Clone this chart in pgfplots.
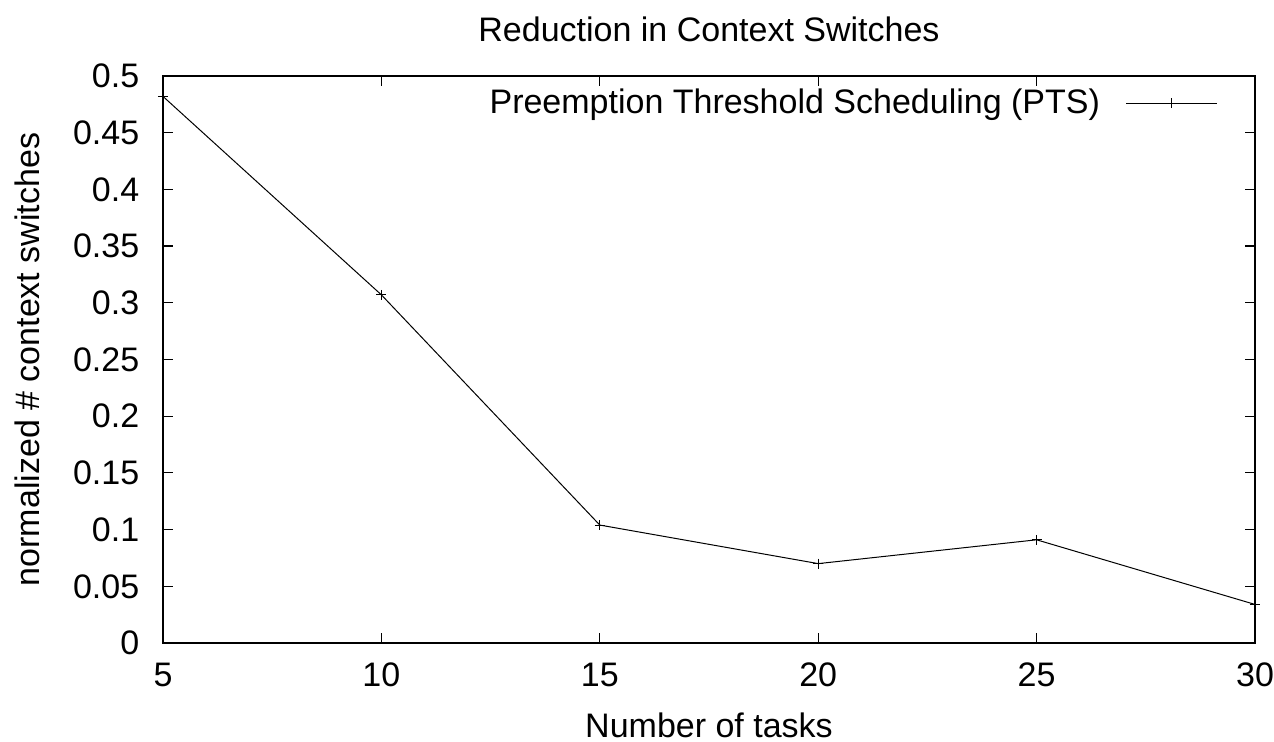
\documentclass[border=0pt]{standalone}
\usepackage{pgfplots}
\pgfplotsset{compat=1.18}
\usepackage{fontspec}
\setmainfont{Liberation Sans}
\begin{document}
\fontsize{17}{20}\selectfont
\begin{tikzpicture}
\begin{axis}[
  scale only axis,
  width=546pt, height=283.5pt,
  xmin=5, xmax=30, ymin=0, ymax=0.5,
  xtick={5,10,15,20,25,30},
  ytick={0,0.05,0.1,0.15,0.2,0.25,0.3,0.35,0.4,0.45,0.5},
  /pgf/number format/assume math mode=true,
  yticklabel style={/pgf/number format/fixed,/pgf/number format/precision=2},
  tick align=inside,
  major tick length=5pt,
  tick style={black, line width=0.6pt},
  axis line style={line width=0.8pt},
  every tick label/.append style={font=\fontsize{17}{20}\selectfont},
  xticklabel style={yshift=-4pt},
  yticklabel style={xshift=-6pt},
  title={Reduction in Context Switches},
  title style={font=\fontsize{17}{20}\selectfont, yshift=5pt},
  xlabel={Number of tasks},
  ylabel={normalized \# context switches},
  label style={font=\fontsize{17}{20}\selectfont},
  xlabel style={yshift=-1.5pt},
  ylabel style={yshift=5pt},
  legend style={draw=none, fill=none, at={(1,0.985)}, anchor=north east,
    font=\fontsize{17}{20}\selectfont, inner sep=0pt, outer sep=0pt},
  legend plot pos=right,
  legend cell align=right,
  legend image code/.code={\path (0pt,0pt); \draw[mark repeat=2,mark phase=2] plot coordinates {(11pt,0pt)(33.5pt,0pt)(56pt,0pt)}; \path (75pt,0pt);},
  clip=false,
]
\addplot[black, line width=0.5pt, mark=+, mark size=2.5pt] coordinates {
  (5,0.482) (10,0.307) (15,0.104) (20,0.070) (25,0.091) (30,0.034)
};
\addlegendentry{Preemption Threshold Scheduling (PTS)}
\end{axis}
\path (current axis.south west) ++(-81.5pt,-49.5pt) coordinate (bl);
\path (current axis.north east) ++(9.5pt,38pt) coordinate (tr);
\pgfresetboundingbox
\useasboundingbox (bl) rectangle (tr);
\end{tikzpicture}
\end{document}
